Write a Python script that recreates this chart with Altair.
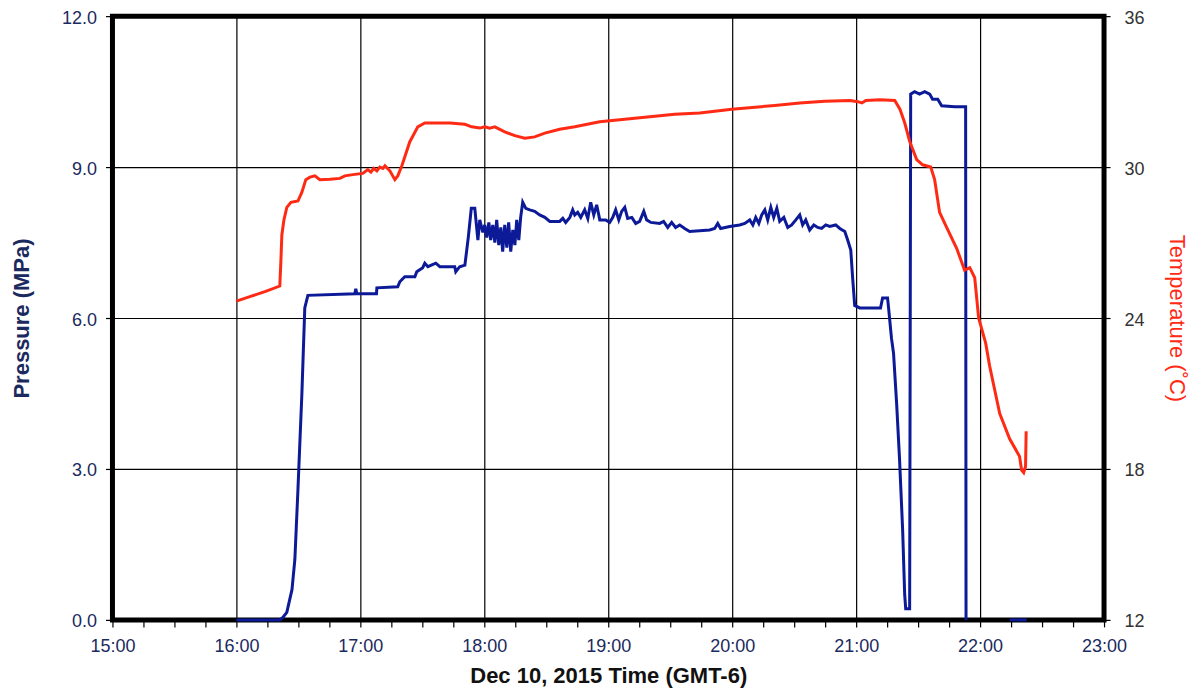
import altair as alt
import pandas as pd

# time in minutes after 15:00 on Dec 10, 2015
p_min = [60.0, 66.5, 81.0, 82.5, 84.4, 86.9, 88.3, 89.8, 91.7, 93.1, 94.6,
         117.3, 117.8, 118.3, 127.8, 128.0, 138.1, 139.1, 141.5, 146.4, 147.3,
         150.2, 151.2, 152.7, 156.5, 158.5, 165.7, 166.2, 168.1, 170.6, 171.5,
         172.3, 173.7, 175.4, 176.9, 177.8,
         179.3, 180.2, 181.2, 182.2, 183.1, 184.1, 185.1, 186.0, 187.0, 188.0,
         188.9, 189.9, 190.9, 191.8, 192.8, 193.8, 194.8, 195.7, 196.7, 197.6,
         198.6, 200.1, 202.0, 204.4, 206.8, 209.3, 211.7, 216.5, 218.0, 219.4,
         221.4, 222.8, 223.8, 225.2, 226.7, 228.6, 230.1, 231.5, 233.0, 234.4,
         235.9, 238.8, 240.7, 242.2, 243.6, 245.1, 246.5, 248.0, 249.4, 251.4,
         253.3, 255.2, 257.2, 258.6, 260.6, 264.9, 266.8, 268.8, 270.7, 272.6,
         274.6, 277.0, 279.4, 289.1, 291.5, 293.0, 294.4, 298.8, 303.6, 306.1,
         308.5, 310.0, 311.4, 312.9, 314.3, 315.8, 317.2, 318.7, 320.1, 321.6,
         323.0, 325.0, 326.9, 328.8, 330.8, 332.7, 334.1, 335.6, 337.5, 339.5,
         341.4, 343.3, 345.3, 347.2, 350.1, 352.1, 354.5, 355.9, 357.4, 358.3,
         359.3, 361.7, 371.8, 372.8, 375.2, 375.7, 377.1, 378.1, 379.6, 381.0,
         382.5, 383.5, 384.0, 385.9, 386.4, 388.3, 390.7, 393.2, 395.6, 397.0,
         399.5, 401.4, 407.7, 413.0, 413.2,
         434.3, 442.5]
p_val = [0.0, 0.0, 0.0, 0.05, 0.15, 0.6, 1.2, 2.6, 4.5, 6.2, 6.45,
         6.48, 6.58, 6.48, 6.48, 6.6, 6.62, 6.72, 6.82, 6.82, 6.92,
         7.0, 7.09, 7.02, 7.09, 7.02, 7.02, 6.92, 7.02, 7.05, 7.35,
         7.62, 8.18, 8.18, 7.55, 7.95,
         7.70, 7.85, 7.60, 7.90, 7.55, 7.85, 7.50, 7.95, 7.45, 7.80,
         7.32, 7.85, 7.40, 7.90, 7.32, 7.75, 7.45, 7.95, 7.55, 8.0,
         8.30, 8.18, 8.15, 8.12, 8.05, 8.0, 7.92, 7.92, 7.98, 7.90,
         8.0, 8.15, 8.05, 8.10, 8.0, 8.15, 7.98, 8.30, 8.05, 8.25,
         7.95, 7.95, 7.90, 8.0, 8.15, 7.95, 8.12, 8.2, 7.98, 8.0,
         7.88, 7.92, 8.12, 7.95, 7.90, 7.88, 7.92, 7.80, 7.90, 7.80,
         7.85, 7.78, 7.72, 7.75, 7.78, 7.88, 7.78, 7.82, 7.85, 7.88,
         7.95, 7.85, 8.0, 7.88, 8.05, 8.15, 7.95, 8.20, 8.0, 8.18,
         7.92, 8.0, 7.80, 7.85, 7.95, 8.05, 7.85, 7.95, 7.75, 7.85,
         7.80, 7.78, 7.85, 7.82, 7.85, 7.78, 7.72, 7.55, 7.35, 6.8,
         6.25, 6.2, 6.2, 6.4, 6.4, 6.2, 5.6, 5.3, 4.3, 3.2,
         1.8, 0.5, 0.22, 0.22, 10.45, 10.5, 10.45, 10.5, 10.45, 10.35,
         10.35, 10.22, 10.2, 10.2, 0.0,
         0.0, 0.0]
p_seg = [1] * (len(p_val) - 2) + [2, 2]

t_min = [60.0, 66.5, 73.8, 81.0, 81.5, 82.0, 83.0, 84.4, 86.4, 89.8, 91.7,
         93.6, 95.6, 98.0, 100.4, 105.3, 110.1, 112.5, 116.4, 121.2, 123.6,
         125.1, 126.5, 128.0, 129.4, 130.9, 131.9, 134.3, 136.7, 138.1, 140.1,
         143.9, 147.8, 151.2, 163.3, 170.6, 173.9, 177.8, 180.2, 182.6, 185.1,
         189.9, 194.8, 199.6, 204.4, 209.3, 216.5, 223.8, 235.9, 248.0, 260.1,
         272.2, 284.3, 299.8, 320.6, 332.7, 344.8, 357.0, 360.8, 362.8, 364.7,
         371.5, 378.7, 381.2, 383.5, 385.9, 389.3, 392.2, 396.1, 398.0, 400.4,
         403.8, 408.7, 412.5, 415.0, 417.4, 419.3, 422.7, 424.6, 429.5, 434.3,
         439.1, 440.1, 441.1, 442.0, 442.3]
t_val = [24.67, 24.85, 25.05, 25.27, 26.2, 27.3, 27.9, 28.4, 28.6, 28.65, 29.0,
         29.5, 29.6, 29.65, 29.5, 29.52, 29.55, 29.65, 29.7, 29.75, 29.9,
         29.8, 29.95, 29.85, 30.0, 29.95, 30.05, 29.85, 29.5, 29.65, 30.05,
         31.0, 31.6, 31.75, 31.75, 31.7, 31.6, 31.55, 31.6, 31.55, 31.6,
         31.4, 31.25, 31.15, 31.2, 31.35, 31.5, 31.6, 31.8, 31.9, 32.0,
         32.1, 32.15, 32.3, 32.45, 32.55, 32.62, 32.65, 32.6, 32.55, 32.65,
         32.68, 32.65, 32.3, 31.76, 31.03, 30.3, 30.09, 30.0, 29.5, 28.2,
         27.6, 26.76, 25.9, 26.0, 25.6, 24.0, 23.0, 22.1, 20.2, 19.2,
         18.5, 17.95, 17.85, 18.1, 19.5]

x_ticks = list(range(0, 481, 15))
p_ticks = [0, 3, 6, 9, 12]
t_ticks = [12, 18, 24, 30, 36]

BLUE = "#0c1a98"
RED = "#ff2a14"
NAVY = "#1b2a5e"
FONT = "Liberation Sans"

pdf = pd.DataFrame({"t": p_min, "p": p_val, "seg": p_seg})
tdf = pd.DataFrame({"t": t_min, "temp": t_val})

x_axis = alt.Axis(
    values=x_ticks,
    labelExpr="datum.value % 60 == 0 ? (15 + datum.value / 60) + ':00' : ''",
    gridOpacity={"condition": {"test": "datum.value % 60 == 0", "value": 1}, "value": 0},
    labelFlush=False, labelOverlap=False,
    tickSize=7, labelPadding=11, labelFontSize=18, labelColor=NAVY,
    title="Dec 10, 2015 Time (GMT-6)", titleFontSize=22, titleFontWeight="bold",
    titleColor="#111111", titlePadding=10,
)
x_enc = alt.X("t:Q", scale=alt.Scale(domain=[0, 480], nice=False, zero=False), axis=x_axis)

press = alt.Chart(pdf).mark_line(color=BLUE, strokeWidth=3).encode(
    x=x_enc,
    y=alt.Y("p:Q", scale=alt.Scale(domain=[0, 12], nice=False),
            axis=alt.Axis(orient="left", values=p_ticks, format=".1f",
                          tickSize=7, labelPadding=9, labelFontSize=18, labelColor=NAVY,
                          labelOffset=2, labelFlush=False,
                          title="Pressure (MPa)", titleFontSize=22, titleFontWeight="bold",
                          titleColor=NAVY, titlePadding=28)),
    detail="seg:N",
)

temp = alt.Chart(tdf).mark_line(color=RED, strokeWidth=3).encode(
    x=x_enc,
    y=alt.Y("temp:Q", scale=alt.Scale(domain=[12, 36], nice=False, zero=False),
            axis=alt.Axis(orient="right", values=t_ticks, format="d", grid=False,
                          tickSize=6, labelPadding=14, labelFontSize=18, labelColor="#333333",
                          labelOffset=2, labelFlush=False,
                          title="Temperature (˚C)", titleFontSize=22, titleFontWeight="normal",
                          titleColor=RED, titlePadding=20)),
)

chart = alt.layer(press, temp).resolve_scale(y="independent").properties(
    width=992, height=604,
    padding={"left": 104.5, "top": 8, "right": 90, "bottom": 70},
    autosize=alt.AutoSizeParams(type="none"),
).configure_view(
    stroke="black", strokeWidth=5
).configure_axis(
    domain=False, gridColor="black", gridWidth=1.2, tickColor="black", tickWidth=1.2,
    labelFont=FONT, titleFont=FONT,
)

chart.save("out.html", embed_options={"renderer": "svg", "actions": False})
